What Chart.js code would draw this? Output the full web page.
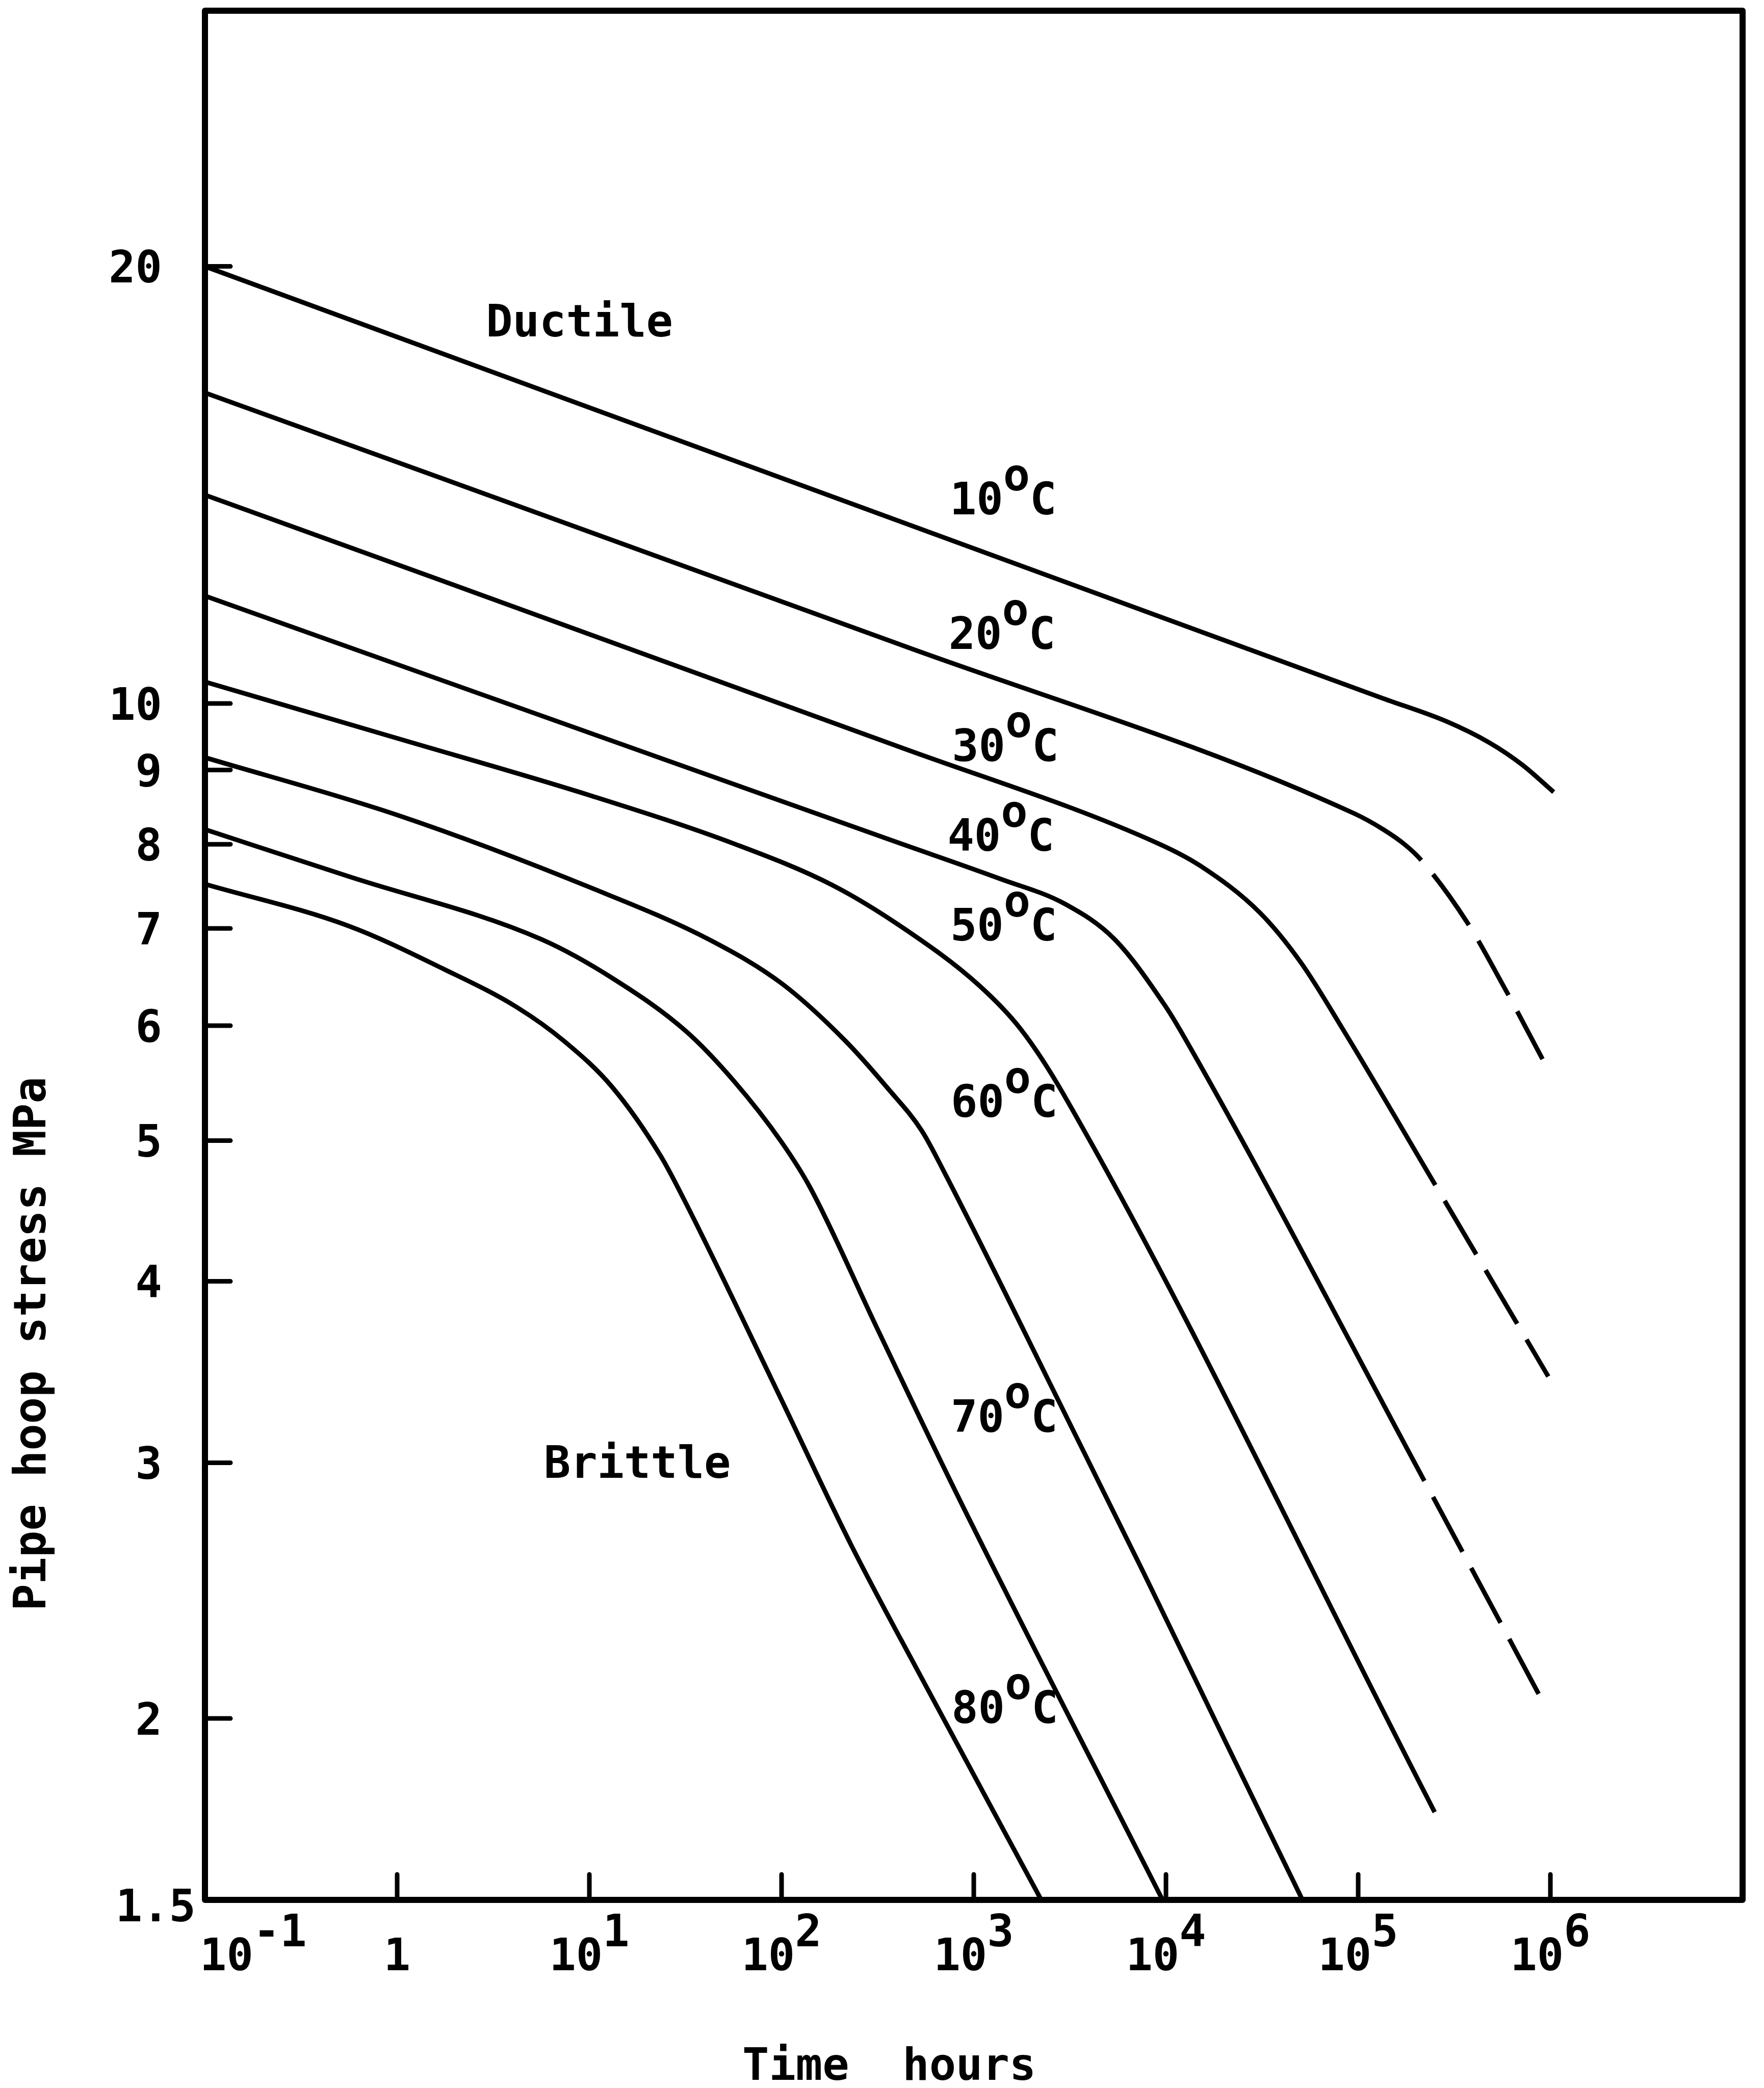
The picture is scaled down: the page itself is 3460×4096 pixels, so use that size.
<!DOCTYPE html>
<html>
<head>
<meta charset="utf-8">
<script src="https://cdn.jsdelivr.net/npm/chart.js@4.4.0/dist/chart.umd.min.js"></script>
<style>
html,body{margin:0;padding:0;background:#fff;}
canvas{display:block;}
</style>
</head>
<body>
<canvas id="c" width="3460" height="4096" style="width:3460px;height:4096px"></canvas>
<script>
// ---------------- data (hours, MPa) ----------------
const temperatures = [10, 20, 30, 40, 50, 60, 70, 80];

const hours10  = [0.1, 1.35e5, 2.88e5, 4.8e5, 7.13e5, 1.04e6];
const stress10 = [20.0, 10.08, 9.72, 9.40, 9.075, 8.69];
const hours20  = [0.1, 406, 9.53e4, 1.35e5, 1.74e5, 2.13e5, 3.71e5, 5.70e5, 9.10e5];
const stress20 = [16.37, 10.99, 8.40, 8.19, 8.00, 7.80, 7.06, 6.39, 5.69];
const hours30  = [0.1, 397, 9100, 1.51e4, 3.07e4, 5.04e4, 8.3e4, 2.52e5, 9.75e5];
const stress30 = [13.92, 9.35, 8.01, 7.73, 7.18, 6.63, 5.97, 4.66, 3.44];
const hours40  = [0.1, 394, 1384, 2965, 5408, 9840, 1.21e4, 2.21e5, 9.58e5];
const stress40 = [11.86, 8.03, 7.57, 7.28, 6.88, 6.20, 5.93, 2.915, 2.03];
const hours50  = [0.1, 1.01, 10.2, 57.5, 183, 433, 1059, 1758, 2910, 2.50e5];
const stress50 = [10.35, 9.46, 8.64, 8.00, 7.50, 7.00, 6.40, 5.965, 5.39, 1.724];
const hours60  = [0.1, 1.0, 10.1, 42.7, 101, 214, 358, 536, 700, 2823, 7650, 2.07e4, 5.13e4];
const stress60 = [9.18, 8.38, 7.47, 6.87, 6.41, 5.86, 5.43, 5.08, 4.76, 3.29, 2.52, 1.92, 1.5];
const hours70  = [0.1, 0.562, 5.63, 13.4, 31.7, 56.2, 99.8, 141, 312, 811, 9600];
const stress70 = [8.19, 7.60, 6.88, 6.46, 5.95, 5.50, 4.99, 4.64, 3.72, 2.86, 1.5];
const hours80  = [0.1, 0.555, 1.76, 4.18, 7.45, 13.2, 23.5, 31.2, 97.2, 228, 538, 2244];
const stress80 = [7.51, 7.03, 6.56, 6.18, 5.85, 5.44, 4.88, 4.55, 3.34, 2.64, 2.13, 1.5];

// hours from which a curve is drawn dashed (extrapolated part)
const dashFromHours = [null, 2.13e5, 2.52e5, 2.21e5, null, null, null, null];

// axis ticks and labels
const xTickValues  = [1, 10, 100, 1e3, 1e4, 1e5, 1e6];
const xLabelValues = [0.1, 1, 10, 100, 1e3, 1e4, 1e5, 1e6];
const xLabelBase   = ['10', '1', '10', '10', '10', '10', '10', '10'];
const xLabelExp    = ['-1', '', '1', '2', '3', '4', '5', '6'];
const yTickValues  = [2, 3, 4, 5, 6, 7, 8, 9, 10, 20];
const yLabelValues = [1.5, 2, 3, 4, 5, 6, 7, 8, 9, 10, 20];
const yLabelText   = ['1.5', '2', '3', '4', '5', '6', '7', '8', '9', '10', '20'];

// curve annotations (anchored in data units)
const curveLabelHours  = [750, 740, 770, 730, 755, 760, 760, 765];
const curveLabelStress = [13.50, 10.90, 9.13, 7.92, 6.87, 5.19, 3.15, 1.985];
const regionLabels      = ['Ductile', 'Brittle'];
const regionLabelHours  = [2.9, 5.8];
const regionLabelStress = [17.9, 2.93];
const xTitle = 'Time  hours';
const yTitle = 'Pipe hoop stress MPa';

// ---------------- chart ----------------
const hoursSeries  = [hours10, hours20, hours30, hours40, hours50, hours60, hours70, hours80];
const stressSeries = [stress10, stress20, stress30, stress40, stress50, stress60, stress70, stress80];

const FONT = '"DejaVu Sans Mono", "Liberation Mono", monospace';
const FS = 87;
const RAISE = 47;
const DASH = [122, 36];

const datasets = temperatures.map((t, i) => {
  const from = dashFromHours[i];
  const dashed = ctx => from !== null && ctx.p0.parsed.x >= from * 0.999;
  return {
    label: t + ' °C',
    data: hoursSeries[i].map((h, k) => ({ x: h, y: stressSeries[i][k] })),
    borderColor: '#000',
    borderWidth: 9,
    pointRadius: 0,
    pointHoverRadius: 0,
    showLine: true,
    fill: false,
    cubicInterpolationMode: 'monotone',
    borderCapStyle: 'butt',
    segment: {
      borderDash: ctx => dashed(ctx) ? DASH : undefined,
      borderDashOffset: ctx => dashed(ctx) ? DASH[0] : undefined
    }
  };
});

const axesPlugin = {
  id: 'typewriterAxes',
  beforeDraw(chart) {
    const c = chart.ctx;
    c.save();
    c.fillStyle = '#fff';
    c.fillRect(0, 0, chart.width, chart.height);
    c.restore();
  },
  afterDraw(chart) {
    const ctx = chart.ctx, a = chart.chartArea, xs = chart.scales.x, ys = chart.scales.y;
    ctx.save();
    ctx.strokeStyle = '#000';
    ctx.fillStyle = '#000';
    // frame
    ctx.lineWidth = 12;
    ctx.lineJoin = 'round';
    ctx.strokeRect(a.left, a.top, a.right - a.left, a.bottom - a.top);
    // inward tick marks
    ctx.lineWidth = 9;
    ctx.lineCap = 'round';
    const tl = 50;
    yTickValues.forEach(v => {
      const y = ys.getPixelForValue(v);
      ctx.beginPath(); ctx.moveTo(a.left, y); ctx.lineTo(a.left + tl, y); ctx.stroke();
    });
    xTickValues.forEach(v => {
      const x = xs.getPixelForValue(v);
      ctx.beginPath(); ctx.moveTo(x, a.bottom); ctx.lineTo(x, a.bottom - tl); ctx.stroke();
    });

    ctx.font = 'bold ' + FS + 'px ' + FONT;
    ctx.textBaseline = 'alphabetic';
    const cap = FS * 0.73;

    // y tick labels
    ctx.textAlign = 'right';
    yLabelValues.forEach((v, i) => {
      const y = ys.getPixelForValue(v);
      const atMin = Math.abs(v - ys.min) < 1e-9;
      const x = atMin ? a.left - 18 : a.left - 84;
      ctx.fillText(yLabelText[i], x, y + cap / 2 + (atMin ? 10 : 0));
    });

    // x tick labels (typewriter style superscripts)
    ctx.textAlign = 'left';
    const base = a.bottom + 138;
    xLabelValues.forEach((v, i) => {
      const wB = ctx.measureText(xLabelBase[i]).width;
      const wE = xLabelExp[i] ? ctx.measureText(xLabelExp[i]).width : 0;
      let x = xs.getPixelForValue(v) - (wB + wE) / 2;
      x = Math.max(x, a.left - 10);
      ctx.fillText(xLabelBase[i], x, base);
      if (xLabelExp[i]) ctx.fillText(xLabelExp[i], x + wB, base - RAISE);
    });

    // curve labels, e.g. 10°C typed as 10 + raised o + C
    temperatures.forEach((t, i) => {
      let x = xs.getPixelForValue(curveLabelHours[i]);
      const y = ys.getPixelForValue(curveLabelStress[i]);
      const s = String(t);
      ctx.fillText(s, x, y); x += ctx.measureText(s).width;
      ctx.fillText('o', x, y - RAISE); x += ctx.measureText('o').width;
      ctx.fillText('C', x, y);
    });

    // region labels
    regionLabels.forEach((s, i) => {
      ctx.fillText(s, xs.getPixelForValue(regionLabelHours[i]), ys.getPixelForValue(regionLabelStress[i]));
    });

    // axis titles
    ctx.fillText(xTitle, 1456, 4080);
    ctx.save();
    ctx.translate(89, 2636);
    ctx.rotate(-Math.PI / 2);
    ctx.textAlign = 'center';
    ctx.fillText(yTitle, 0, 0);
    ctx.restore();

    ctx.restore();
  }
};

new Chart(document.getElementById('c').getContext('2d'), {
  type: 'scatter',
  data: { datasets },
  options: {
    responsive: false,
    maintainAspectRatio: false,
    devicePixelRatio: 1,
    animation: false,
    events: [],
    layout: { padding: { left: 402, right: 42, top: 21, bottom: 369 } },
    plugins: { legend: { display: false }, tooltip: { enabled: false }, title: { display: false } },
    scales: {
      x: { type: 'logarithmic', min: 0.1, max: 1e7, display: false },
      y: { type: 'logarithmic', min: 1.5, max: 30, display: false }
    }
  },
  plugins: [axesPlugin]
});
</script>
</body>
</html>
